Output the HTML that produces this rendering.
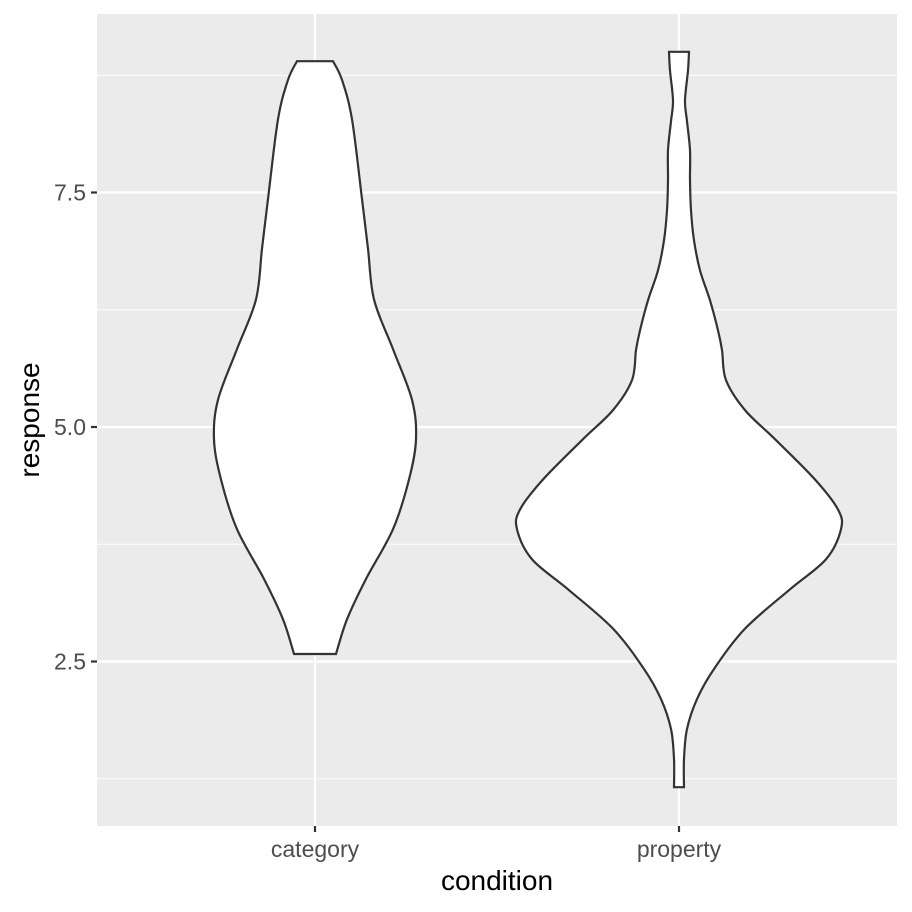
<!DOCTYPE html>
<html><head><meta charset="utf-8"><style>
body{margin:0;background:#fff}
svg{display:block;font-family:"Liberation Sans",sans-serif}
</style></head><body>
<svg id="chart" width="912" height="912" viewBox="0 0 912 912">
<rect x="97" y="14" width="800" height="812" fill="#ebebeb"/>
<g id="grid"></g><g id="violins"></g><g id="axes"></g>
<text x="497" y="890" text-anchor="middle" font-size="28" fill="#000">condition</text>
<text transform="translate(39,420) rotate(-90)" text-anchor="middle" font-size="28" fill="#000">response</text>
</svg>
<script>
const categories = ["category", "property"];
const yTicks = [2.5, 5.0, 7.5];
const yTickLabels = ["2.5", "5.0", "7.5"];
const yMinor = [1.25, 3.75, 6.25, 8.75];
const catY = [8.9, 8.7, 8.28, 7.43, 6.9, 6.36, 5.83, 5.29, 4.87, 4.44, 3.91, 3.38, 2.95, 2.58];
const catW = [18, 27, 37, 47, 53, 59, 78, 97, 101, 94, 78, 51, 32, 21];
const propY = [9.0, 8.8, 8.48, 8.26, 7.95, 7.63, 7.31, 6.99, 6.67, 6.35, 6.03, 5.82, 5.5, 5.18, 4.87, 4.44, 4.12, 3.91, 3.59, 3.27, 2.85, 2.42, 2.1, 1.78, 1.46, 1.16];
const propW = [10, 9, 6, 8, 11, 11, 12, 15, 21, 31, 39, 43, 47, 66, 96, 136, 159, 162, 147, 111, 66, 35, 18, 8, 5, 5];
const series = [[catY, catW], [propY, propW]];

const NS = "http://www.w3.org/2000/svg";
const y = v => 427 - (v - 5) * 93.8;
const x = i => 315 + i * 364;
function mk(tag, attrs, parent) {
  const e = document.createElementNS(NS, tag);
  for (const k in attrs) e.setAttribute(k, attrs[k]);
  parent.appendChild(e); return e;
}
const grid = document.getElementById("grid"), vg = document.getElementById("violins"), ax = document.getElementById("axes");
yMinor.forEach(v => {
  const l = mk("line", {x1: 97, x2: 897, y1: y(v), y2: y(v), stroke: "#fff", "stroke-width": 1.1}, grid);
  
  
});
yTicks.forEach((v, i) => {
  const l = mk("line", {x1: 97, x2: 897, y1: y(v), y2: y(v), stroke: "#fff", "stroke-width": 2.2}, grid);
  
  
  const t = mk("line", {x1: 91, x2: 97, y1: y(v), y2: y(v), stroke: "#333", "stroke-width": 2.2}, ax);
  
  
  const tx = mk("text", {x: 86, y: y(v) + 8, "text-anchor": "end", "font-size": 23, fill: "#4d4d4d"}, ax);
  tx.textContent = yTickLabels[i];
  
  
});
categories.forEach((c, i) => {
  const l = mk("line", {x1: x(i), x2: x(i), y1: 14, y2: 826, stroke: "#fff", "stroke-width": 2.2}, grid);
  
  
  const t = mk("line", {x1: x(i), x2: x(i), y1: 826, y2: 832, stroke: "#333", "stroke-width": 2.2}, ax);
  
  
  const tx = mk("text", {x: x(i), y: 857, "text-anchor": "middle", "font-size": 23, fill: "#4d4d4d"}, ax);
  tx.textContent = c;
  
  
});
function smooth(pts) {
  let d = "";
  for (let i = 0; i < pts.length - 1; i++) {
    const p0 = pts[Math.max(0, i - 1)], p1 = pts[i], p2 = pts[i + 1], p3 = pts[Math.min(pts.length - 1, i + 2)];
    const c1 = [p1[0] + (p2[0] - p0[0]) / 6, p1[1] + (p2[1] - p0[1]) / 6];
    const c2 = [p2[0] - (p3[0] - p1[0]) / 6, p2[1] - (p3[1] - p1[1]) / 6];
    d += ` C${c1[0]},${c1[1]} ${c2[0]},${c2[1]} ${p2[0]},${p2[1]}`;
  }
  return d;
}
series.forEach(([ys, ws], i) => {
  const cx = x(i);
  const right = ys.map((v, k) => [cx + ws[k], y(v)]);
  const left = ys.map((v, k) => [cx - ws[k], y(v)]).reverse();
  let d = `M${right[0][0]},${right[0][1]}` + smooth(right) + ` L${left[0][0]},${left[0][1]}` + smooth(left) + " Z";
  const p = mk("path", {d, fill: "#fff", stroke: "#333", "stroke-width": 2.2}, vg);
  
  
});
</script>
</body></html>
